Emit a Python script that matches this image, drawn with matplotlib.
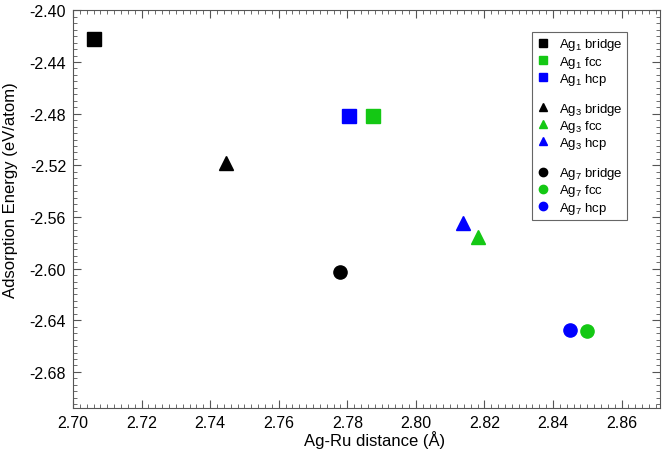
import matplotlib
matplotlib.use('Agg')
import matplotlib.pyplot as plt
from matplotlib.ticker import MultipleLocator, FormatStrFormatter
from matplotlib.lines import Line2D

plt.rcParams['font.family'] = ['Liberation Sans', 'DejaVu Sans']
plt.rcParams['mathtext.fontset'] = 'custom'
plt.rcParams['mathtext.rm'] = 'Liberation Sans'
plt.rcParams['mathtext.it'] = 'Liberation Sans:italic'

# data
ag1_x = [2.7061, 2.7876, 2.7805]
ag1_y = [-2.4221, -2.4820, -2.4820]
ag3_x = [2.7445, 2.8180, 2.8136]
ag3_y = [-2.5179, -2.5754, -2.5650]
ag7_x = [2.7779, 2.8499, 2.8448]
ag7_y = [-2.6029, -2.6482, -2.6474]
sites = ['bridge', 'fcc', 'hcp']
colors = ['black', '#14c814', '#0000ff']

fig = plt.figure(figsize=(6.64, 4.56), dpi=100)
ax = fig.add_axes([0.110, 0.103, 0.884, 0.872])

handles = []
labels = []
groups = [(ag1_x, ag1_y, 's', 9.5, 1), (ag3_x, ag3_y, '^', 10.5, 3), (ag7_x, ag7_y, 'o', 9.5, 7)]
for gi, (xs, ys, m, ms, n) in enumerate(groups):
    for i in range(3):
        ax.plot(xs[i], ys[i], m, color=colors[i], markersize=ms, linestyle='none')
        handles.append(Line2D([], [], marker=m, color=colors[i], linestyle='none', markersize=6))
        labels.append('Ag$_{%d}$ %s' % (n, sites[i]))
    if gi < 2:
        handles.append(Line2D([], [], linestyle='none'))
        labels.append('')

ax.set_xlim(2.70, 2.8712)
ax.set_ylim(-2.708, -2.40)
ax.xaxis.set_major_locator(MultipleLocator(0.02))
ax.xaxis.set_minor_locator(MultipleLocator(0.002))
ax.yaxis.set_major_locator(MultipleLocator(0.04))
ax.yaxis.set_minor_locator(MultipleLocator(0.005))
ax.xaxis.set_major_formatter(FormatStrFormatter('%.2f'))
ax.yaxis.set_major_formatter(FormatStrFormatter('%.2f'))
ax.tick_params(which='both', direction='in', top=True, right=True, labelsize=11.5, color='#555555')
ax.tick_params(which='major', length=6, width=0.8, pad=5)
ax.tick_params(which='minor', length=3, width=0.6)
for s in ax.spines.values():
    s.set_color('#555555')
    s.set_linewidth(0.8)

ax.set_xlabel('Ag-Ru distance (Å)', fontsize=12)
ax.set_ylabel('Adsorption Energy (eV/atom)', fontsize=12)
ax.xaxis.set_label_coords(0.514, -0.055)
ax.yaxis.set_label_coords(-0.094, 0.551)

leg = ax.legend(handles, labels, loc='upper left', bbox_to_anchor=(0.782, 0.946),
                fontsize=9.5, frameon=True, fancybox=False, framealpha=1,
                edgecolor='#666666', borderpad=0.35, labelspacing=0.08,
                handlelength=1.0, handletextpad=0.7, borderaxespad=0)
leg.get_frame().set_linewidth(0.8)

plt.savefig('out.png', dpi=100)
